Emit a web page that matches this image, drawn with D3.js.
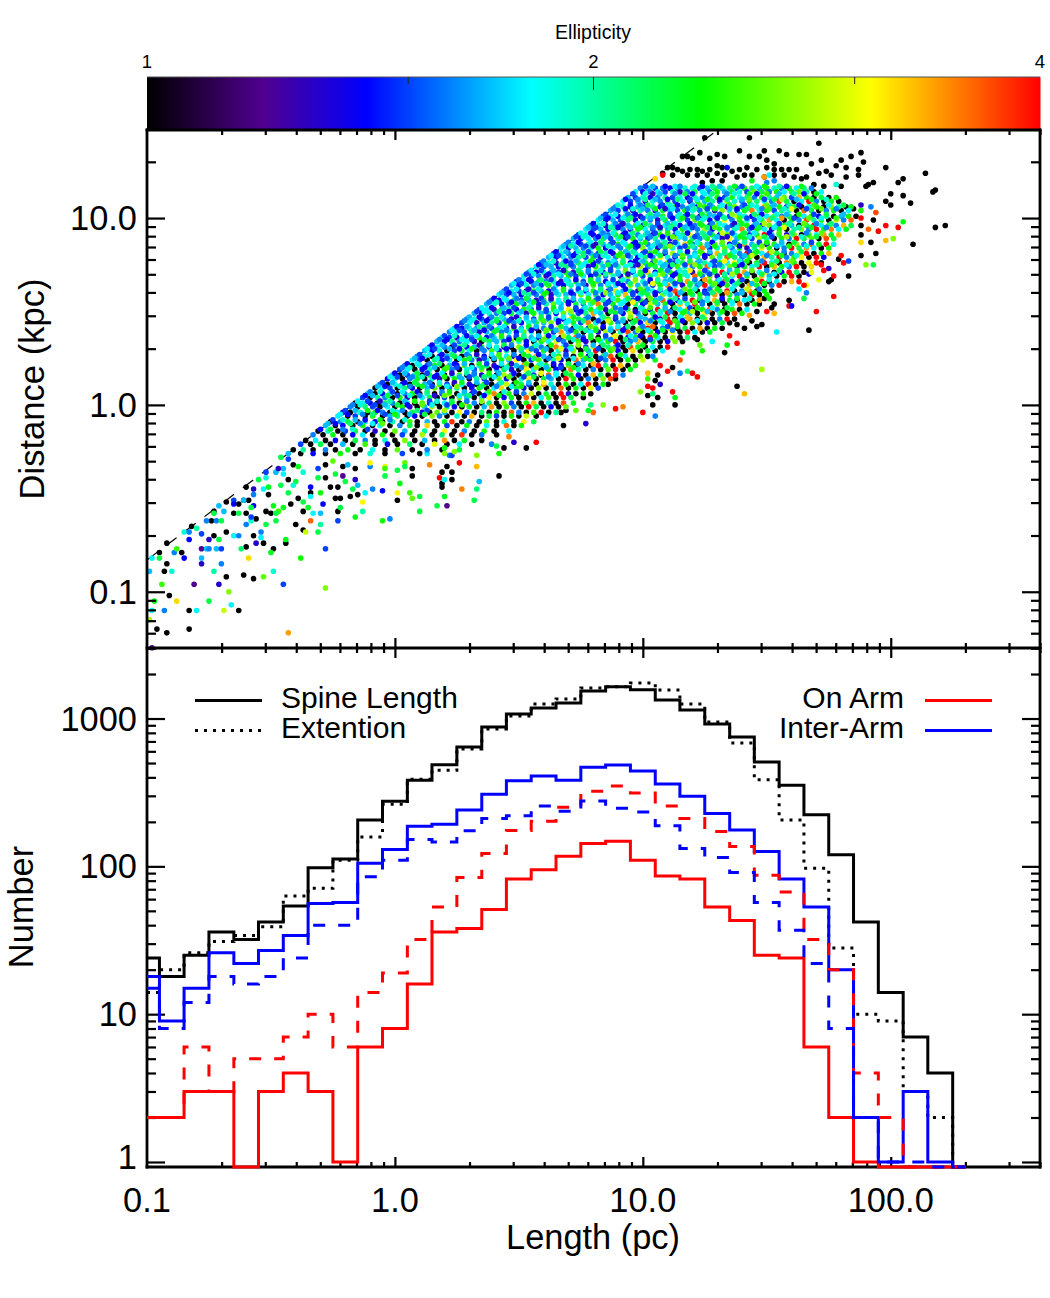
<!DOCTYPE html>
<html>
<head>
<meta charset="utf-8">
<script src="https://d3js.org/d3.v7.min.js"></script>
<style>
body { margin: 0; background: #fff; }
text { font-family: "Liberation Sans", Arial, sans-serif; fill: #000; }
</style>
</head>
<body>
<div id="chart"></div>
<script>
// histogram bins (pc)
const binLength = [0.1,0.126,0.158,0.2,0.251,0.316,0.398,0.501,0.631,0.794,1,1.26,1.58,2,2.51,3.16,3.98,5.01,6.31,7.94,10,12.6,15.8,20,25.1,31.6,39.8,50.1,63.1,79.4,100,126,158,200];

const spineAll = [24,18,25,36,32,42,54,98,112,206,276,383,486,641,875,1072,1177,1273,1536,1642,1567,1334,1142,918,749,509,354,223,120,42,14,7,4,0];
const extentAll = [14,20,26,31,34,39,63,71,110,158,263,389,447,621,849,1040,1253,1355,1611,1640,1739,1560,1253,946,682,385,206,97,28,10,9,3,2,0];
const spineOnArm = [2,2,3,3,0,3,4,3,1,6,8,16,36,38,51,82,95,117,143,148,110,86,82,53,43,25,24,6,2,1,0,0,0,0];
const extentOnArm = [2,2,6,3,5,5,7,10,6,14,19,32,53,84,122,175,202,251,322,350,313,256,211,172,136,87,67,32,20,4,2,0,0,0];
const spineInterArm = [18,9,15,26,22,27,34,56,57,105,130,187,193,241,307,379,409,383,469,484,441,360,298,228,176,126,82,53,20,2,1,3,1,0];
const extentInterArm = [15,8,12,18,16,18,24,40,40,85,110,152,146,174,211,220,256,236,277,247,233,188,132,115,91,57,37,22,8,2,1,1,0,0];

// sparse scatter points read one by one: log10(length)*100, log10(distance)*100, ellipticity*10
const sparseLogL = [-43,-83,-92,-96,-99,-98,-98,-93,-83,-80,-69,-66,-63,-97,-91,-88,-75,-67,-28,-45,-94,-81,-71,-68,-61,-57,-53,-49,-99,-93,-90,-73,-70,-78,-78,-85,-92,-59,-38,-28,-50,-49,-98,-95,-95,-89,-86,-88,-92,-78,-76,-75,-72,-70,-62,-60,-56,-53,-44,-44,-54,-54,-57,-83,-85,-83,-80,-82,-78,-75,-73,-71,-68,-65,-63,-40,-37,-36,-31,-30,-34,-23,-16,-13,-5,-2,10,17,21,32,20,1,1,7,6,10,2,27,33,34,42,18,20,23,19,19,19,21,23,26,33,14,22,23,33,42,53,57,48,46,39,41,44,24,20,13,-13,-22,-23,-29,-24,-22,-18,-15,-12,-9,-5,-26,-23,-20,-17,-15,-16,-30,-34,-39,-37,-35,-37,-33,-30,-42,-43,-45,-47,-48,-48,-50,-52,-49,-52,-56,-58,-60,-60,-58,-57,-58,-61,-57,-63,-65,-69,-73,-73,-76,-74,-72,-70,-71,-68,-65,-65,-63,-61,-59,-57,-60,-53,-51,-51,-55,-52,-52,-48,-46,-43,-45,-47,-41,-39,-37,-45,-43,-40,-46,-41,-34,-34,-31,-28,-31,-28,-25,-24,-21,-19,-16,-21,-10,-10,-4,-4,-4,4,4,1,7,7,
125,143,171,123,130,133,139,149,155,158,163,166,188,184,172,180,143,147,150,116,118,120,127,189,178,168,153,198,187,187,182,214,205,203,193,191,190,182,176,174,171,166,164,169,173,180,218,217,205,110,112,114,116,119,122,124,127,130,132,136,139,142,146,150,153,156,159,162,108,112,118,122,126,130,133,138,141,144,149,153,157,161,132,128,124,144,153,134,149,151,150,178,105,108,200,198,200,208,192,188,185,188,194,188,193,205,198,203,218,222,188,191,195,188,198,201,188,192,209,188,194,190,193,181,183,180,179,183,177,175,172,173,176,175,171,167,166,165,163,163,166,165,177,170,167,154,148,141,138,159,159,160,153,152,153,150,146,147,151,149,146,148,144,143,141,138,135,138,134,133,128,122,124,123,116,115,112,115,118,122,120,110,106,107,105,102,102,105,107,104,102,104,102,106,112,113,113,104,100,105,99,92,89,84,80,78,73,79,77,68,69,67];
const sparseLogD = [-122,-120,-122,-120,-115,-130,-110,-110,-110,-110,-110,-107,-110,-105,-102,-105,-105,-100,-98,-96,-96,-96,-96,-92,-91,-93,-92,-89,-89,-89,-89,-89,-85,-85,-82,-82,-85,-82,-82,-77,-79,-77,-82,-82,-79,-79,-79,-77,-74,-77,-77,-77,-77,-77,-77,-76,-74,-74,-74,-72,-71,-68,-70,-72,-68,-68,-66,-65,-69,-72,-70,-72,-68,-70,-70,-64,-67,-68,-68,-64,-62,-62,-60,-57,-62,-61,-57,-54,-54,-51,-49,-51,-47,-50,-47,-49,-42,-45,-45,-41,-38,-39,-40,-40,-44,-42,-36,-33,-36,-31,-33,-32,-27,-27,-27,-26,-23,-20,-20,-17,-21,-22,-23,-25,-23,-26,-52,-55,-57,-53,-50,-50,-49,-48,-47,-45,-46,-44,-44,-41,-45,-43,-40,-47,-49,-50,-52,-55,-57,-58,-58,-53,-47,-55,-57,-58,-62,-58,-57,-54,-64,-61,-62,-64,-58,-60,-54,-55,-51,-48,-58,-58,-57,-57,-58,-62,-62,-62,-62,-54,-52,-51,-53,-53,-51,-51,-45,-44,-45,-44,-48,-40,-39,-36,-36,-28,-29,-34,-34,-32,-33,-36,-37,-40,-41,-43,-43,-44,-47,-39,-39,-34,-32,-30,-37,-38,-32,-34,-33,-33,-31,-38,-33,-34,-31,-33,-35,-34,-38,
143,143,140,135,134,133,136,136,136,134,134,134,135,133,131,131,133,133,131,133,133,132,132,130,128,129,129,127,126,123,127,124,121,119,119,118,117,122,123,125,124,122,121,118,117,117,115,114,112,127,127,126,125,126,126,125,126,128,127,125,126,127,126,127,126,126,126,126,124,123,123,123,123,124,123,122,123,123,122,123,123,122,120,120,119,120,120,127,122,123,119,118,121,123,113,109,107,108,106,107,105,104,103,100,99,98,96,95,95,96,96,94,93,91,88,89,87,87,86,80,81,75,75,76,77,80,78,69,69,73,75,72,67,66,67,70,64,64,66,62,60,57,58,50,40,39,19,6,10,56,53,53,54,52,49,50,50,54,57,57,42,43,45,48,41,43,37,33,32,28,34,35,29,32,28,24,20,17,18,15,17,18,16,21,24,14,17,13,11,9,10,6,5,4,7,4,0,0,-4,-6,7,-1,-2,0,-4,-3,-3,0,-10,-11,-3,-4];
const sparseEll = [34,10,10,10,28,12,18,16,10,18,29,18,10,23,10,32,22,27,27,15,25,12,13,10,10,10,26,19,17,10,19,20,16,13,17,14,10,32,24,15,23,10,18,22,10,16,10,25,10,12,17,16,17,15,21,10,13,10,10,23,18,16,10,14,19,16,20,10,15,13,10,22,10,18,16,10,10,29,22,20,36,15,23,20,24,16,22,22,12,22,23,10,31,26,25,22,23,35,21,17,10,40,18,10,10,10,10,10,10,40,33,35,16,15,27,24,10,40,13,35,16,22,10,27,23,18,31,22,10,14,10,10,10,10,18,16,14,10,10,22,22,17,13,24,18,10,22,23,10,18,17,10,22,23,25,22,22,10,10,23,22,10,19,16,10,15,14,22,17,16,22,10,17,10,22,16,10,16,22,17,10,15,14,10,10,10,13,10,18,23,10,22,19,15,17,22,15,17,13,10,23,19,18,10,22,22,19,14,10,22,10,15,10,26,22,12,17,10,10,16,31,22,30,25,26,22,22,
10,10,10,10,10,10,10,10,10,10,10,10,10,10,10,10,10,10,10,10,10,10,10,10,10,10,10,10,10,10,10,10,10,10,10,10,10,10,10,10,10,10,10,10,10,10,10,10,10,10,10,10,10,10,10,10,10,10,10,10,10,10,10,10,10,10,10,10,10,10,10,10,10,10,10,10,10,10,10,10,10,10,10,10,10,10,10,23,16,14,34,18,16,19,
32,40,10,10,10,10,16,13,10,24,37,40,10,23,40,40,10,10,10,36,40,10,33,27,32,10,10,10,10,27,22,40,15,40,10,10,40,13,40,40,10,10,30,14,31,40,40,18,16,22,40,40,10,18,28,33,10,10,40,14,10,10,33,40,10,10,24,10,10,10,10,34,10,10,40,40,23,10,18,10,24,26,23,37,10,16,21,40,40,40,10,40,23,25,33,10,13,40,40,21,10,10,40,23,10,10,40,16,27,35,40,27,36,23,26,21,13,10];

// dense part of the wedge, estimated row by row: one log10(distance)*100 per row, then length,ellipticity pairs
const denseLogD = [116,114,111,109,106,104,101,99,96,94,91,89,86,84,81,79,76,74,71,69,66,64,61,59,56,54,51,49,46,44,41,39,36,34,31,29,26,24,21,19,16,14,11,9,6,4,1,-1,-4,-6,-9,-11,-14,-16,-19,-21,-24,-26];
const denseRows = [
[99,16,102,17,105,15,108,16,111,14,114,17,117,19,120,18,123,15,126,17,129,22,132,19,135,20,138,16,141,24,144,21,147,17,150,23,153,19,156,16,159,24,162,18,165,21,168,16],
[97,18,100,14,103,16,106,18,109,15,112,19,115,13,118,16,121,22,124,18,127,16,130,24,133,17,136,22,139,19,142,15,145,26,148,22,151,16,154,24,157,18,160,22,163,26,166,20,169,10,172,18],
[94,17,97,15,100,19,103,14,106,16,109,20,112,15,115,18,118,14,121,20,124,16,127,19,130,23,133,15,136,24,139,18,142,21,145,16,148,24,151,20,154,17,157,26,160,15,163,33,166,24,169,10,172,22,175,10,178,24],
[92,18,95,15,98,17,101,14,104,19,107,16,110,21,113,15,116,18,119,13,122,23,125,17,128,20,131,15,134,27,137,19,140,16,143,24,146,21,149,18,152,16,155,37,158,22,161,10,164,18,167,40,170,16,173,10,176,23,179,10],
[89,16,92,19,95,14,98,17,101,15,104,20,107,14,110,18,113,22,116,16,119,19,122,14,125,24,128,17,131,20,134,13,137,26,140,16,143,23,146,19,149,34,152,17,155,24,158,15,161,22,164,10,167,19,170,24,173,10,176,27,179,20,182,10,184,23],
[87,17,90,15,93,18,96,13,99,20,102,16,105,14,108,22,111,17,114,15,117,24,120,18,123,16,126,21,129,13,132,27,135,19,138,15,141,23,144,35,147,18,150,24,153,15,156,21,159,19,162,10,165,36,168,22,171,10,174,16,177,24,180,10,183,18],
[84,15,87,18,90,14,93,20,96,16,99,13,102,19,105,17,108,24,111,15,114,19,117,16,120,22,123,13,126,25,129,17,132,20,135,15,138,29,141,19,144,14,147,23,150,18,153,26,156,16,159,22,162,10,165,18,168,24,171,14,174,20,177,10,180,17,183,24,186,10],
[82,18,85,14,88,17,91,15,94,21,97,14,100,18,103,16,106,13,109,23,112,17,115,20,118,15,121,26,124,18,127,14,130,22,133,31,136,16,139,24,142,19,145,15,148,22,151,34,154,18,157,10,160,24,163,16,166,37,169,20,172,24,175,10,178,29,181,16,184,36],
[79,16,82,19,85,13,88,18,91,15,94,17,97,22,100,14,103,20,106,16,109,18,112,24,115,14,118,19,121,16,124,23,127,13,130,27,133,18,136,15,139,21,142,24,145,17,148,14,151,26,154,19,157,23,160,17,163,10,166,22,169,40,172,18,175,25,178,16,181,33,184,22],
[77,18,80,15,83,17,86,14,89,20,92,16,95,13,98,23,101,18,104,15,107,21,110,17,113,14,116,24,119,19,122,16,125,28,128,14,131,22,134,17,137,20,140,35,143,16,146,24,149,18,152,13,155,23,158,10,161,20,164,27,167,16,170,40,173,23,176,35,179,18,182,23],
[74,15,77,19,80,14,83,17,86,16,89,22,92,14,95,18,98,16,101,20,104,13,107,24,110,17,113,15,116,21,119,30,122,16,125,19,128,23,131,14,134,26,137,18,140,22,143,15,146,24,149,40,152,17,155,21,158,13,161,26,164,10,167,24,170,18,173,34,176,23,179,33],
[72,17,75,14,78,18,81,16,84,22,87,15,90,19,93,13,96,24,99,17,102,15,105,20,108,18,111,14,114,27,117,17,120,21,123,16,126,24,129,19,132,13,135,31,138,17,141,23,144,15,147,28,150,19,153,10,156,24,159,16,162,40,165,22,168,26,171,10,174,37,177,22],
[69,16,72,18,75,15,78,20,81,13,84,17,87,15,90,24,93,18,96,14,99,22,102,16,105,19,108,25,111,14,114,18,117,32,120,15,123,23,126,17,129,26,132,20,135,14,138,24,141,34,144,17,147,22,150,13,153,24,156,18,159,10,162,27,165,16,168,36,171,23,174,40,177,18],
[67,18,70,14,73,17,76,16,79,19,82,23,85,14,88,18,91,16,94,21,97,15,100,27,103,17,106,13,109,22,112,19,115,15,118,24,121,17,124,35,127,14,130,20,133,26,136,16,139,23,142,13,145,20,148,31,151,24,154,10,157,16,160,40,163,22,166,34,169,18,172,10,175,24],
[64,15,67,19,70,16,73,14,76,22,79,17,82,15,85,20,88,13,91,24,94,17,97,19,100,15,103,23,106,18,109,14,112,28,115,16,118,21,121,17,124,25,127,14,130,33,133,19,136,22,139,16,142,40,145,24,148,18,151,36,154,22,157,10,160,16,163,31,166,40,169,10,172,23,175,33],
[62,17,65,14,68,18,71,16,74,20,77,15,80,23,83,13,86,18,89,16,92,26,95,17,98,14,101,21,104,16,107,30,110,19,113,14,116,24,119,17,122,22,125,13,128,26,131,18,134,37,137,21,140,16,143,24,146,10,149,33,152,20,155,40,158,16,161,24,164,31,167,10,170,40,173,14],
[59,16,62,19,65,13,68,17,71,15,74,22,77,18,80,14,83,20,86,16,89,17,92,24,95,14,98,19,101,23,104,15,107,18,110,26,113,13,116,22,119,34,122,17,125,20,128,15,131,24,134,18,137,31,140,16,143,10,146,23,149,40,152,18,155,10,158,35,161,24,164,10,167,30,170,40,172,10],
[57,18,60,15,63,17,66,14,69,21,72,16,75,19,78,13,81,24,84,17,87,15,90,20,93,18,96,14,99,28,102,16,105,22,108,17,111,14,114,25,117,19,120,16,123,23,126,36,129,15,132,20,135,26,138,13,141,23,144,18,147,40,150,10,153,33,156,24,159,16,162,40,165,10,168,32],
[54,16,57,14,60,19,63,17,66,15,69,23,72,13,75,18,78,16,81,21,84,14,87,27,90,17,93,19,96,15,99,22,102,32,105,14,108,18,111,24,114,16,117,20,120,13,123,28,126,17,129,22,132,40,135,15,138,24,141,34,144,10,147,18,150,31,153,10,156,14,159,40,162,21,165,10,168,30],
[52,18,55,15,58,16,61,13,64,20,67,17,70,24,73,15,76,18,79,14,82,22,85,16,88,19,91,13,94,25,97,18,100,15,103,21,106,29,109,17,112,14,115,23,118,19,121,36,124,16,127,26,130,13,133,22,136,18,139,40,142,24,145,10,148,33,151,17,154,10,157,23,160,40,163,10],
[49,15,52,18,55,14,58,22,61,16,64,19,67,13,70,17,73,23,76,15,79,20,82,26,85,14,88,18,91,21,94,16,97,31,100,19,103,13,106,24,109,17,112,22,115,15,118,34,121,20,124,10,127,25,130,17,133,37,136,14,139,22,142,10,145,31,148,40,151,10,154,18,157,10,160,33],
[47,17,50,14,53,19,56,16,59,15,62,24,65,18,68,14,71,20,74,17,77,13,80,25,83,16,86,22,89,18,92,14,95,27,98,17,101,20,104,15,107,24,110,35,113,18,116,13,119,22,122,16,125,40,128,21,131,10,134,24,137,18,140,10,143,33,146,23,149,10,152,16,155,40],
[44,16,47,19,50,15,53,13,56,22,59,17,62,14,65,18,68,25,71,16,74,19,77,14,80,23,83,18,86,15,89,29,92,17,95,21,98,13,101,24,104,18,107,15,110,20,113,37,116,17,119,24,122,10,125,14,128,31,131,22,134,40,137,10,140,16,143,34,146,10,149,23,152,10],
[42,18,45,15,48,17,51,14,54,20,57,16,60,23,63,13,66,19,69,17,72,15,75,26,78,18,81,22,84,14,87,17,90,24,93,33,96,15,99,19,102,22,105,13,108,27,111,17,114,40,117,10,120,21,123,24,126,15,129,34,132,10,135,22,138,16,141,10,144,40,147,10,150,24],
[39,16,42,14,45,18,48,21,51,15,54,17,57,13,60,24,63,16,66,19,69,22,72,14,75,18,78,30,81,16,84,20,87,13,90,25,93,18,96,15,99,23,102,10,105,17,108,36,111,22,114,14,117,27,120,40,123,10,126,19,129,33,132,10,135,23,138,10,141,18,144,10,147,34],
[37,17,40,19,43,14,46,16,49,23,52,15,55,18,58,14,61,20,64,26,67,17,70,13,73,22,76,16,79,19,82,35,85,15,88,24,91,18,94,10,97,21,100,14,103,29,106,17,109,23,112,10,115,33,118,19,121,40,124,16,127,10,130,26,133,10,136,18,139,36,142,10,145,23],
[34,15,37,18,40,13,43,17,46,20,49,14,52,24,55,16,58,19,61,15,64,22,67,18,70,31,73,14,76,17,79,24,82,20,85,13,88,27,91,16,94,22,97,10,100,19,103,14,106,40,109,25,112,10,115,18,118,33,121,10,124,23,127,37,130,16,133,10,136,24,139,10,142,18],
[32,17,35,14,38,19,41,16,44,15,47,22,50,18,53,13,56,24,59,17,62,20,65,14,68,26,71,18,74,15,77,21,80,34,83,17,86,10,89,23,92,14,95,29,98,16,101,10,104,22,107,18,110,40,113,10,116,24,119,17,122,10,125,31,128,10,131,20,134,10,137,37,140,24],
[29,16,32,19,35,15,38,14,41,21,44,17,47,13,50,23,53,18,56,15,59,25,62,16,65,19,68,14,71,32,74,22,77,16,80,10,83,18,86,24,89,14,92,21,95,10,98,37,101,17,104,23,107,13,110,40,113,10,116,19,119,34,122,10,125,26,128,10,131,16,134,40,137,10],
[27,15,30,18,33,13,36,17,39,20,42,15,45,24,48,16,51,14,54,19,57,22,60,17,63,27,66,13,69,18,72,23,75,15,78,35,81,19,84,10,87,25,90,16,93,10,96,21,99,14,102,32,105,10,108,18,111,40,114,23,117,10,120,27,123,10,126,14,129,10,132,22,135,10],
[24,17,27,14,30,19,33,16,36,22,39,15,42,18,45,14,48,25,51,17,54,20,57,13,60,16,63,23,66,31,69,17,72,10,75,21,78,15,81,26,84,10,87,18,90,36,93,14,96,10,99,23,102,40,105,10,108,16,111,29,114,10,117,22,120,10,123,34,126,10,129,23,132,10],
[22,16,25,18,28,15,31,20,34,13,37,17,40,23,43,16,46,19,49,14,52,26,55,18,58,10,61,22,64,15,67,34,70,17,73,24,76,10,79,18,82,13,85,28,88,10,91,20,94,37,97,16,100,10,103,24,106,14,109,10,112,31,115,10,118,40,121,18,124,10,127,23],
[19,18,22,15,25,13,28,19,31,16,34,24,37,14,40,18,43,21,46,16,49,10,52,23,55,17,58,14,61,27,64,19,67,10,70,22,73,36,76,15,79,24,82,10,85,17,88,31,91,10,94,14,97,24,100,10,103,40,106,18,109,10,112,27,115,10,118,21,121,10],
[17,17,20,14,23,20,26,16,29,18,32,13,35,10,38,22,41,17,44,15,47,26,50,19,53,14,56,10,59,23,62,18,65,30,68,16,71,10,74,25,77,13,80,10,83,19,86,24,89,40,92,10,95,16,98,33,101,10,104,22,107,10,110,14,113,27,116,10],
[14,15,17,18,20,16,23,10,26,21,29,14,32,17,35,24,38,15,41,19,44,13,47,10,50,27,53,17,56,22,59,16,62,10,65,35,68,18,71,24,74,10,77,15,80,29,83,10,86,21,89,16,92,10,95,37,98,23,101,10,104,18,107,10,110,40],
[12,17,15,14,18,19,21,10,24,15,27,22,30,18,33,10,36,16,39,25,42,14,45,20,48,10,51,17,54,31,57,15,60,23,63,10,66,19,69,13,72,27,75,10,78,17,81,40,84,10,87,24,90,14,93,10,96,32,99,10,102,22,105,10,108,18],
[9,16,12,19,15,10,18,14,21,17,24,23,27,10,30,16,33,20,36,14,39,10,42,26,45,18,48,13,51,10,54,22,57,33,60,17,63,10,66,24,69,16,72,10,75,30,78,14,81,10,84,21,87,37,90,10,93,18,96,10,99,26,102,10,104,16],
[7,18,10,15,13,10,16,21,19,14,22,18,25,10,28,24,31,16,34,13,37,19,40,10,43,23,46,17,49,31,52,10,55,15,58,25,61,10,64,20,67,14,70,10,73,36,76,17,79,22,82,10,85,16,88,40,91,10,94,24,97,10,100,29],
[4,16,7,10,10,19,13,15,16,23,19,10,22,17,25,14,28,26,31,10,34,18,37,21,40,13,43,10,46,24,49,17,52,34,55,10,58,19,61,22,64,10,67,14,70,27,73,10,76,18,79,10,82,40,85,21,88,10,91,33,94,10,97,24],
[2,15,5,18,8,10,11,14,14,20,17,10,20,24,23,16,26,10,29,19,32,15,35,27,38,10,41,17,44,22,47,13,50,10,53,30,56,18,59,10,62,24,65,14,68,10,71,35,74,20,77,10,80,16,83,10,86,26,89,40,92,10,95,23],
[-1,17,2,10,5,15,8,19,11,10,14,22,17,14,20,10,23,18,26,25,29,10,32,16,35,13,38,21,41,10,44,28,47,17,50,10,53,23,56,15,59,10,62,36,65,18,68,10,71,24,74,14,77,10,80,33,83,21,86,10,89,40,92,16],
[-3,14,0,18,3,10,6,16,9,23,12,10,15,19,18,13,21,10,24,24,27,17,30,10,33,20,36,15,39,10,42,26,45,14,48,10,51,19,54,31,57,10,60,22,63,17,66,10,69,40,72,24,75,10,78,16,81,10,84,27,87,37,89,10],
[-6,16,-3,10,0,19,3,14,6,10,9,22,12,17,15,10,18,25,21,15,24,10,27,18,30,13,33,10,36,24,39,10,42,17,45,29,48,10,51,21,54,15,57,10,60,34,63,19,66,10,69,24,72,10,75,18,78,40,81,10,84,23,86,10],
[-8,10,-5,18,-2,15,1,10,4,21,7,14,10,10,13,17,16,26,19,10,22,16,25,20,28,10,31,13,34,24,37,10,40,18,43,32,46,10,49,22,52,14,55,10,58,27,61,10,64,17,67,36,70,10,73,23,76,10,79,30,82,15],
[-11,17,-8,10,-5,14,-2,19,1,10,4,16,7,23,10,10,13,18,16,10,19,15,22,27,25,10,28,21,31,14,34,10,37,18,40,35,43,10,46,24,49,10,52,16,55,29,58,10,61,22,64,10,67,40,70,13,73,10,76,24,79,10],
[-13,15,-10,10,-7,20,-4,16,-1,10,2,24,5,13,8,10,11,18,14,22,17,10,20,15,23,10,26,26,29,17,32,10,35,19,38,31,41,10,44,14,47,23,50,10,53,36,56,10,59,18,62,25,65,10,68,40,71,22,76,10],
[-16,10,-13,18,-10,14,-7,10,-4,22,-1,16,2,10,5,19,8,10,11,25,14,14,17,10,20,18,23,23,26,10,29,32,32,16,35,10,38,21,41,10,44,27,47,15,50,10,53,24,56,33,59,10,62,19,65,10,68,37,72,23],
[-18,16,-15,10,-12,21,-9,15,-6,10,-3,18,0,10,3,24,6,13,9,10,12,17,15,28,18,10,21,20,24,14,27,10,30,23,33,10,36,17,39,34,42,10,45,25,48,16,51,10,54,40,57,22,60,10,63,14,66,10,69,26],
[-21,14,-18,10,-14,19,-11,10,-8,23,-5,16,-2,10,1,18,4,10,7,22,11,14,14,10,17,26,20,17,23,10,26,31,29,15,32,10,35,21,38,10,41,24,44,10,47,36,50,16,53,10,56,25,59,40,62,10,65,20],
[-23,18,-19,10,-16,15,-12,10,-9,24,-5,10,-2,17,1,21,5,10,8,14,11,10,15,27,18,16,21,10,25,19,28,10,31,33,35,10,38,22,41,15,44,10,47,24,50,10,53,29,57,10,61,18],
[-26,10,-22,16,-19,22,-15,10,-12,18,-8,14,-5,10,-1,20,3,10,6,25,9,10,13,17,16,10,20,23,23,38,27,10,30,16,34,10,37,26,41,10,44,19,48,10,52,31,56,22],
[-28,17,-24,10,-21,14,-17,10,-13,24,-9,10,-6,18,-2,10,2,16,6,22,9,10,13,32,17,10,21,15,25,10,29,23,33,10,37,18,41,10,45,36,48,10,51,24],
[-31,10,-27,19,-23,10,-20,15,-16,22,-12,10,-8,13,-4,10,0,26,4,17,8,10,12,20,16,10,20,31,24,10,28,16,32,10,36,24,40,10,46,18],
[-33,16,-29,10,-25,23,-21,10,-17,14,-13,18,-9,10,-5,24,-1,10,3,15,7,10,11,28,15,10,19,21,23,10,27,38,31,10,35,16,41,10],
[-36,10,-32,18,-28,10,-24,14,-20,10,-16,22,-12,16,-8,10,-4,19,0,10,4,27,8,10,12,17,16,10,20,34,24,10,28,23,35,10],
[-38,15,-34,10,-30,22,-26,10,-21,17,-17,10,-12,25,-8,10,-3,14,1,10,6,21,11,10,16,30,21,10,26,18,31,10],
[-41,10,-37,20,-33,10,-28,16,-24,10,-19,23,-14,10,-9,18,-4,10,1,26,7,10,13,16,19,10,26,22],
[-43,17,-38,10,-33,14,-28,10,-22,24,-16,10,-10,19,-4,10,3,15,10,10,20,27]
];

// second pass over the wedge, between the rows above, mostly the blue to green points
const fillLogD = [117,113,110,107,105,102,100,97,95,92,90,87,85,82,80,77,75,72,70,67,65,62,60,57,55,52,50,47,45,42,40,37,35,32,30,27,25,22,20,17,15,12,10,7,5,2,0,-3,-5,-8,-10,-13];
const fillRows = [
[101,15,104,17,109,14,113,18,115,16,121,19,124,14,128,20,131,17,137,23,140,15,146,18,149,24,155,20,158,14,164,23],
[96,15,101,19,104,13,107,17,113,16,117,22,120,14,125,18,128,21,134,16,137,19,143,23,146,14,150,25,155,17,161,20,165,14,170,23],
[93,14,98,16,101,20,105,17,110,14,114,21,119,15,122,18,126,24,131,14,134,20,140,17,143,26,149,15,153,22,156,28,162,17,168,23,174,19],
[90,19,95,14,99,16,102,22,108,15,111,19,114,14,120,17,123,25,127,16,132,18,135,22,141,15,144,19,150,26,153,17,159,20,163,14,169,25,175,18,181,22],
[88,16,93,14,96,19,100,17,105,23,109,13,112,18,118,16,121,20,126,15,129,24,135,17,138,14,142,22,148,16,151,25,157,19,160,31,166,15,172,26,178,16],
[85,15,89,18,94,16,97,14,103,21,106,17,111,15,115,19,118,14,124,22,127,17,131,15,136,27,139,18,145,21,148,14,154,19,158,17,163,24,169,15,174,22,181,17],
[83,17,86,14,92,18,95,21,100,15,103,17,108,20,112,14,116,23,122,16,125,19,130,14,133,20,139,25,142,15,147,18,152,21,156,34,161,15,167,26,172,18,178,25],
[80,14,84,19,89,16,92,13,98,18,101,22,106,15,110,17,113,19,119,14,123,24,128,16,131,19,137,13,140,23,146,17,149,28,155,15,159,20,165,26,170,16,176,21],
[78,17,81,15,87,20,90,14,95,17,99,23,104,16,107,13,111,20,117,17,120,15,126,21,129,25,134,16,138,19,144,14,147,22,153,18,157,30,163,20,168,23,174,16],
[75,18,79,14,84,16,88,19,93,14,96,21,102,17,105,15,110,24,114,18,118,14,124,20,127,16,132,29,136,15,141,22,145,18,151,14,155,25,160,21,166,16,172,26],
[73,15,76,19,82,14,85,17,91,22,94,15,99,19,103,16,108,14,112,26,115,18,121,15,125,21,130,17,134,13,139,24,143,19,149,22,152,15,158,28,164,19,170,22],
[70,16,74,14,79,18,83,21,88,15,92,18,97,14,101,24,106,17,109,20,113,15,119,23,122,18,128,14,132,26,137,16,141,20,147,15,150,24,156,17,161,22,168,15],
[68,17,71,20,77,15,80,13,86,19,90,16,95,23,98,14,104,18,107,16,111,27,117,15,120,20,126,17,129,24,135,19,139,14,145,21,148,26,154,17,159,24,166,19],
[65,14,69,17,74,19,78,15,83,22,87,14,93,17,96,20,101,15,105,24,109,16,115,19,118,14,123,25,127,17,133,21,137,18,143,15,146,23,152,28,157,16,164,22],
[63,18,66,15,72,14,76,21,81,16,84,19,90,24,94,15,99,18,103,14,107,22,113,16,116,26,121,18,125,14,131,20,135,24,141,17,144,29,150,16,156,23,162,19],
[60,16,64,19,69,14,73,17,79,23,82,15,88,18,92,21,97,14,100,17,105,25,111,15,114,19,119,22,123,17,129,15,133,31,139,19,142,24,148,16,154,21,160,26],
[58,14,61,17,67,20,71,15,76,18,80,14,86,22,89,16,95,19,98,13,103,24,109,17,112,21,117,15,121,27,127,18,131,16,137,23,140,14,146,20,152,25,158,18],
[55,18,59,15,64,17,68,13,74,21,78,16,83,19,87,15,93,26,96,18,101,14,107,23,110,16,115,19,119,30,125,15,129,24,135,17,138,22,144,26,150,16,155,21],
[53,15,56,19,62,14,66,18,71,16,75,24,81,15,85,20,90,17,94,13,99,22,105,18,108,26,113,14,117,19,123,23,127,15,133,20,136,28,142,17,148,22,153,18],
[50,16,54,14,59,21,63,15,69,18,73,14,79,23,82,17,88,15,92,19,97,27,103,14,106,20,111,17,115,24,121,16,125,34,131,18,134,22,140,15,146,25,151,19],
[48,18,51,15,57,17,61,22,66,14,70,19,76,16,80,24,86,18,90,14,95,21,101,16,104,30,109,18,113,15,119,22,123,17,129,26,132,14,138,21,144,17,149,23],
[45,15,49,18,54,13,58,19,64,16,68,23,74,15,77,18,83,21,87,16,93,14,99,25,102,17,107,20,111,14,117,26,121,19,127,16,130,23,136,18,142,29,147,16],
[43,17,46,14,52,20,56,15,61,24,65,17,71,14,75,19,81,16,85,27,90,18,96,15,100,22,105,14,109,19,115,17,119,24,125,15,128,21,134,34,140,17,145,24],
[40,14,44,18,49,16,53,22,59,15,63,13,69,20,72,17,78,24,82,15,88,19,94,22,98,14,103,26,107,17,113,20,117,15,123,22,126,18,132,14,138,23,143,19],
[38,16,41,19,47,14,51,17,56,23,60,16,66,18,70,14,76,21,80,25,86,15,92,18,96,31,101,15,105,22,111,14,115,19,121,26,124,16,130,22,136,18],
[35,18,39,14,44,17,48,15,54,20,58,13,64,24,67,17,73,15,77,19,83,23,89,16,93,14,99,19,103,25,109,17,113,21,119,15,122,24,128,18,134,22],
[33,15,36,18,42,21,46,14,51,17,55,23,61,15,65,19,71,27,75,14,81,18,87,22,91,16,97,13,101,24,107,19,111,16,117,23,120,28,126,17,132,24],
[30,17,34,14,39,16,43,19,49,13,53,17,59,22,62,15,68,18,72,24,78,16,84,20,89,15,95,27,99,17,105,14,109,22,115,18,118,33,124,21],
[28,16,31,18,37,14,41,22,46,15,50,19,56,17,60,25,66,14,70,18,76,21,82,15,86,29,92,17,97,23,103,16,107,19,113,25,116,14,122,18],
[25,14,29,17,34,20,38,16,44,18,48,13,54,23,57,17,63,15,67,22,73,19,79,26,84,14,90,18,94,21,100,16,104,36,110,15,114,23],
[23,18,26,15,32,17,36,14,41,22,45,16,51,19,55,14,61,26,65,17,71,15,77,20,81,23,87,17,92,14,98,27,102,18,108,22,112,16],
[20,15,24,19,29,14,33,18,39,16,43,24,49,15,52,20,58,17,62,14,68,28,74,16,79,22,85,15,89,30,95,18,99,14,105,24],
[18,16,21,14,27,18,31,15,36,21,40,17,46,14,50,23,56,18,60,26,66,15,72,19,76,14,82,24,87,16,93,21,97,17,103,15],
[15,14,19,17,24,15,28,20,34,13,38,18,44,22,47,16,53,14,57,19,63,24,69,15,74,27,80,17,84,21,90,14,94,19,100,23],
[13,18,16,15,22,17,26,14,31,24,35,16,41,19,45,14,51,21,55,16,61,17,67,30,71,18,77,22,82,15,88,26],
[10,15,14,18,19,14,23,21,29,16,33,13,39,18,42,25,48,16,52,23,58,14,64,19,69,15,75,24,79,20,85,17,91,23],
[8,17,11,14,17,19,21,15,26,18,30,22,36,15,40,17,46,26,50,14,56,21,62,16,66,29,72,18,77,23,83,15],
[5,14,9,18,14,16,18,21,24,14,28,17,34,23,37,15,43,18,47,13,53,25,59,19,64,14,70,22,74,16,80,33],
[3,16,6,19,12,14,16,17,21,25,25,15,31,18,35,22,41,14,45,19,51,16,57,27,61,17,67,15,72,24],
[0,14,4,17,9,22,13,15,19,18,23,13,29,20,32,16,38,24,42,17,48,14,54,21,59,30,65,18,69,22],
[-2,18,1,15,7,16,11,19,16,14,20,24,26,17,30,15,36,21,40,18,46,26,52,15,56,22,62,16],
[-5,15,-1,17,4,14,8,22,14,16,18,19,24,13,27,23,33,17,37,15,43,20,49,24,54,17,60,31],
[-7,17,-4,14,2,19,6,16,11,23,15,15,21,18,25,27,31,14,35,21,41,16,47,18,51,24],
[-10,16,-6,19,-1,15,3,18,9,14,13,21,19,16,22,24,28,17,32,15,38,25,44,19,49,15],
[-12,14,-9,17,-3,22,1,15,6,19,10,16,16,13,20,26,26,18,30,21,36,14,42,23],
[-15,18,-11,15,-6,13,-2,20,4,17,8,24,14,15,17,19,23,22,29,16,35,27],
[-17,16,-14,19,-8,15,-4,17,1,22,5,14,11,26,15,18,21,15,27,24],
[-20,15,-16,17,-11,24,-7,14,-1,19,3,16,9,21,13,15,20,28],
[-22,18,-19,14,-13,16,-9,21,-4,15,0,24,6,17,12,22],
[-25,15,-21,19,-16,17,-12,14,-6,23,-2,16,4,19],
[-27,17,-24,14,-18,21,-14,16,-9,18,-5,26],
[-30,14,-26,22,-21,16,-17,19,-11,15]
];

const guideLength = [0.1, 20.3];
const guideDistance = [0.148, 30];

const colorStops = [0, 0.13, 0.245, 0.43, 0.62, 0.81, 1];
const colorNames = ['#000000', '#500090', '#0000ff', '#00ffff', '#00ff00', '#ffff00', '#ff0000'];
const barTicks = [1.5, 2, 3];
const barLabels = [1, 2, 4];

const w = 1050, h = 1298;
const left = 147, right = 1040, top1 = 130, mid = 648, bot = 1167;

const svg = d3.select('#chart').append('svg').attr('width', w).attr('height', h);

const x = d3.scaleLog().domain([0.1, 400]).range([left, right]);
const yTop = d3.scaleLog().domain([0.05, 29.6]).range([mid, top1]);
const yBot = d3.scaleLog().domain([0.925, 3000]).range([bot, mid]).clamp(true);
const ellT = d3.scaleLog().base(4).domain([1, 4]).range([0, 1]);
const rainbow = d3.scaleLinear().domain(colorStops).range(colorNames);
const barX = d3.scaleLog().domain([1, 4]).range([left, right]);

// colour bar
const barY0 = 77, barY1 = 129;
svg.append('g').selectAll('rect')
   .data(d3.range(0, 1, 1 / (right - left)))
   .enter().append('rect')
   .attr('x', d => left + d * (right - left))
   .attr('y', barY0)
   .attr('width', 1.5)
   .attr('height', barY1 - barY0)
   .attr('fill', d => rainbow(d));
svg.append('line').attr('x1', left).attr('x2', right).attr('y1', barY0).attr('y2', barY0)
   .attr('stroke', '#555').attr('stroke-width', 1);
svg.selectAll('.bar-tick').data(barTicks).enter().append('line')
   .attr('class', 'bar-tick')
   .attr('x1', d => barX(d)).attr('x2', d => barX(d))
   .attr('y1', barY0).attr('y2', d => barY0 + (d === 2 ? 13 : 7))
   .attr('stroke', '#222').attr('stroke-width', 1);
svg.selectAll('.bar-label').data(barLabels).enter().append('text')
   .attr('class', 'bar-label')
   .attr('x', d => barX(d)).attr('y', 68)
   .attr('text-anchor', 'middle').attr('font-size', 18.5)
   .text(d => d);
svg.append('text').attr('x', 593).attr('y', 39).attr('text-anchor', 'middle')
   .attr('font-size', 19.5).text('Ellipticity');

// guide line under the points
svg.append('line')
   .attr('x1', x(guideLength[0])).attr('y1', yTop(guideDistance[0]))
   .attr('x2', x(guideLength[1])).attr('y2', yTop(guideDistance[1]))
   .attr('stroke', '#000').attr('stroke-width', 1.2).attr('stroke-dasharray', '13 11');

// scatter
let points = sparseLogL.map((l, i) => ({ l: l, d: sparseLogD[i], e: sparseEll[i] }));
[[denseRows, denseLogD], [fillRows, fillLogD]].forEach(set => {
  set[0].forEach((row, r) => {
    for (let i = 0; i < row.length; i += 2) {
      points.push({ l: row[i], d: set[1][r], e: row[i + 1] });
    }
  });
});
points = points.filter(p => p.e === 10).concat(points.filter(p => p.e !== 10));

svg.append('g').selectAll('circle')
   .data(points)
   .enter().append('circle')
   .attr('cx', d => x(Math.pow(10, d.l / 100)))
   .attr('cy', d => yTop(Math.pow(10, d.d / 100)))
   .attr('r', 2.8)
   .attr('fill', d => rainbow(ellT(d.e / 10)));

// axes
function minorTicks(lo, hi) {
  const out = [];
  for (let e = -3; e < 5; e++) {
    for (let m = 2; m < 10; m++) {
      const v = m * Math.pow(10, e);
      if (v >= lo && v <= hi) out.push(v);
    }
  }
  return out;
}
function addAxis(maker, scale, pos, vals, size) {
  const g = svg.append('g')
    .attr('transform', pos)
    .call(maker(scale).tickValues(vals).tickSize(size).tickFormat(''));
  g.select('.domain').remove();
  g.selectAll('line').attr('stroke', '#000').attr('stroke-width', 2.2);
}
const xMajor = [1, 10, 100];
const xMinor = minorTicks(0.1, 400);
// axisTop with a negative size points down, axisBottom with a negative size points up
[[top1, d3.axisTop], [mid, d3.axisTop], [mid, d3.axisBottom], [bot, d3.axisBottom]].forEach(a => {
  const pos = 'translate(0,' + a[0] + ')';
  addAxis(a[1], x, pos, xMajor, -10);
  addAxis(a[1], x, pos, xMinor, -5);
});
[[yTop, [0.1, 1, 10]], [yBot, [1, 10, 100, 1000]]].forEach(a => {
  const lo = a[0].domain()[0], hi = a[0].domain()[1];
  addAxis(d3.axisLeft, a[0], 'translate(' + left + ',0)', a[1], -18);
  addAxis(d3.axisLeft, a[0], 'translate(' + left + ',0)', minorTicks(lo, hi), -9);
  addAxis(d3.axisRight, a[0], 'translate(' + right + ',0)', a[1], -18);
  addAxis(d3.axisRight, a[0], 'translate(' + right + ',0)', minorTicks(lo, hi), -9);
});
[[left, top1, left, bot], [right, top1, right, bot], [left, top1, right, top1], [left, mid, right, mid], [left, bot, right, bot]].forEach(s => {
  svg.append('line').attr('x1', s[0]).attr('y1', s[1]).attr('x2', s[2]).attr('y2', s[3])
     .attr('stroke', '#000').attr('stroke-width', 2.8).attr('stroke-linecap', 'square');
});

// tick labels
const fs = 34.4;
const xTickLabels = [[0.1, '0.1'], [1, '1.0'], [10, '10.0'], [100, '100.0']];
const yTopLabels = [[0.1, '0.1'], [1, '1.0'], [10, '10.0']];
const yBotLabels = [[1, '1'], [10, '10'], [100, '100'], [1000, '1000']];
svg.selectAll('.xl').data(xTickLabels).enter().append('text').attr('class', 'xl')
   .attr('x', d => x(d[0])).attr('y', 1212).attr('text-anchor', 'middle').attr('font-size', fs).text(d => d[1]);
svg.selectAll('.yl').data(yTopLabels).enter().append('text').attr('class', 'yl')
   .attr('x', 137).attr('y', d => yTop(d[0]) + 12).attr('text-anchor', 'end').attr('font-size', fs).text(d => d[1]);
svg.selectAll('.yb').data(yBotLabels).enter().append('text').attr('class', 'yb')
   .attr('x', 137).attr('y', d => yBot(d[0]) + (d[0] === 1 ? 7 : 12)).attr('text-anchor', 'end').attr('font-size', fs).text(d => d[1]);

svg.append('text').attr('transform', 'translate(44,389) rotate(-90)').attr('text-anchor', 'middle')
   .attr('font-size', 34.6).text('Distance (kpc)');
svg.append('text').attr('transform', 'translate(33,907) rotate(-90)').attr('text-anchor', 'middle')
   .attr('font-size', 34.4).text('Number');
svg.append('text').attr('x', 593).attr('y', 1249).attr('text-anchor', 'middle')
   .attr('font-size', 34.4).text('Length (pc)');

// histograms
const line = d3.line().x((d, i) => x(binLength[i])).y(d => yBot(d)).curve(d3.curveStep);
const series = [
  { v: extentAll, c: '#000', dash: '3 6' },
  { v: spineAll, c: '#000', dash: null },
  { v: spineOnArm, c: '#f00', dash: null },
  { v: spineInterArm, c: '#00f', dash: null },
  { v: extentOnArm, c: '#f00', dash: '12 13' },
  { v: extentInterArm, c: '#00f', dash: '12 13' }
];
svg.append('g').selectAll('path').data(series).enter().append('path')
   .attr('d', d => line(d.v))
   .attr('fill', 'none')
   .attr('stroke', d => d.c)
   .attr('stroke-width', 3)
   .attr('stroke-dasharray', d => d.dash);

// legend
const legendLeft = [['Spine Length', 708, 700.5, null], ['Extention', 737.5, 730.5, '3 6']];
const legendRight = [['On Arm', 708, 700.5, '#f00'], ['Inter-Arm', 737.5, 730.5, '#00f']];
legendLeft.forEach(l => {
  svg.append('line').attr('x1', 195).attr('x2', 262).attr('y1', l[2]).attr('y2', l[2])
     .attr('stroke', '#000').attr('stroke-width', 3).attr('stroke-dasharray', l[3]);
  svg.append('text').attr('x', 281).attr('y', l[1]).attr('font-size', 30).text(l[0]);
});
legendRight.forEach(l => {
  svg.append('line').attr('x1', 925).attr('x2', 992).attr('y1', l[2]).attr('y2', l[2])
     .attr('stroke', l[3]).attr('stroke-width', 3);
  svg.append('text').attr('x', 904).attr('y', l[1]).attr('text-anchor', 'end').attr('font-size', 30).text(l[0]);
});
</script>
</body>
</html>
